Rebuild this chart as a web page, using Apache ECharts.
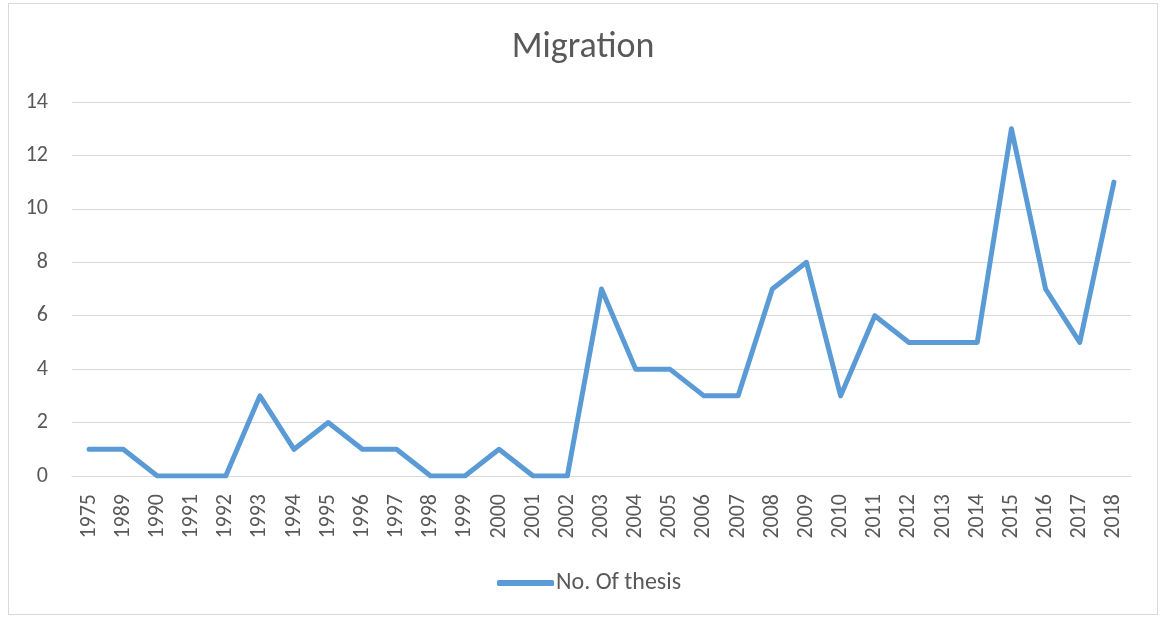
<!DOCTYPE html>
<html>
<head>
<meta charset="utf-8">
<script src="https://cdn.jsdelivr.net/npm/echarts@6/dist/echarts.min.js"></script>
<style>
  html, body { margin: 0; padding: 0; background: #fff; }
  #frame { position: absolute; left: 8px; top: 3px; width: 1150px; height: 612px; border: 1px solid #d9d9d9; box-sizing: border-box; }
  #chart { position: absolute; left: 0; top: 0; width: 1166px; height: 619px; }
</style>
</head>
<body>
<div id="frame"></div>
<div id="chart"></div>
<script>
// Theses on migration per year
const years = ['1975','1989','1990','1991','1992','1993','1994','1995','1996','1997','1998','1999','2000','2001','2002','2003','2004','2005','2006','2007','2008','2009','2010','2011','2012','2013','2014','2015','2016','2017','2018'];
const thesisCounts = [1,1,0,0,0,3,1,2,1,1,0,0,1,0,0,7,4,4,3,3,7,8,3,6,5,5,5,13,7,5,11];
const seriesName = 'No. Of thesis';
const chartTitle = 'Migration';

const chart = echarts.init(document.getElementById('chart'), null, { renderer: 'canvas' });
const font = 'Calibri, Carlito, "Open Sans", "Noto Sans", sans-serif';
chart.setOption({
  animation: false,
  title: {
    text: chartTitle,
    left: 'center',
    top: 25,
    textStyle: { fontFamily: font, fontSize: 36, fontWeight: 'normal', color: '#595959' }
  },
  legend: {
    data: [seriesName],
    top: 566,
    left: 492,
    itemWidth: 57,
    itemHeight: 6,
    itemGap: 3,
    icon: 'roundRect',
    textStyle: { fontFamily: font, fontSize: 24, color: '#595959', padding: [0, 0, 0, -3] }
  },
  grid: { left: 72, right: 35, top: 102, bottom: 143, containLabel: false },
  xAxis: {
    type: 'category',
    data: years,
    boundaryGap: true,
    axisLine: { show: true, lineStyle: { color: '#d9d9d9', width: 1 } },
    axisTick: { show: false },
    axisLabel: { rotate: 90, interval: 0, margin: 18, fontFamily: font, fontSize: 22, color: '#595959' }
  },
  yAxis: {
    type: 'value',
    min: 0, max: 14, interval: 2,
    axisLine: { show: false },
    axisTick: { show: false },
    splitLine: { lineStyle: { color: '#d9d9d9', width: 1 } },
    axisLabel: { margin: 24, fontFamily: font, fontSize: 22, color: '#595959' }
  },
  series: [{
    name: seriesName,
    type: 'line',
    data: thesisCounts,
    symbol: 'none',
    lineStyle: { color: '#5B9BD5', width: 5, cap: 'round', join: 'round' },
    itemStyle: { color: '#5B9BD5' }
  }]
});
</script>
</body>
</html>
